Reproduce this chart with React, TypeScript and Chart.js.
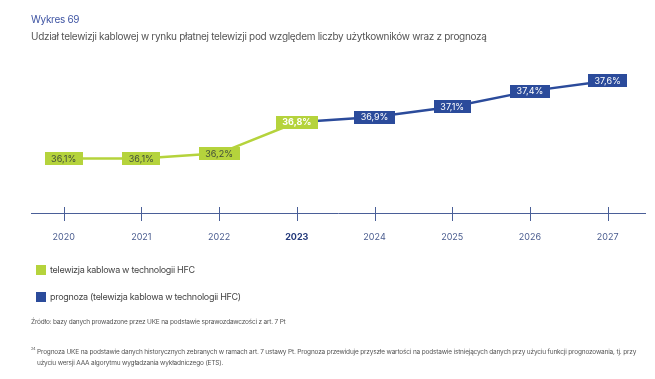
import React, { useEffect, useRef } from "react";
import { Chart, registerables } from "chart.js";

Chart.register(...registerables);

const YEARS = [2020, 2021, 2022, 2023, 2024, 2025, 2026, 2027];
const HFC = [36.1, 36.1, 36.2, 36.8, null, null, null, null];
const FORECAST = [null, null, null, 36.8, 36.9, 37.1, 37.4, 37.6];
const HIGHLIGHT_YEAR = 2023;

const GREEN = "#b5d33c";
const BLUE = "#2b4b9b";
const AXIS = "#4a5f98";
const FONT = "Inter, 'Liberation Sans', sans-serif";

const fmt = (v: number) => v.toFixed(1).replace(".", ",") + "%";

const labelPlugin = {
  id: "boxLabels",
  afterDraw(chart: any) {
    const ctx = chart.ctx;
    const xs = chart.scales.x;
    const area = chart.chartArea;
    ctx.save();
    ctx.strokeStyle = AXIS;
    ctx.lineWidth = 1;
    YEARS.forEach((y) => {
      const px = Math.round(xs.getPixelForValue(y)) + 0.5;
      ctx.beginPath();
      ctx.moveTo(px, area.bottom - 6);
      ctx.lineTo(px, area.bottom + 8);
      ctx.stroke();
    });
    ctx.restore();

    const drawBox = (x: number, y: number, text: string, bg: string, fg: string, bold: boolean) => {
      ctx.save();
      ctx.font = `${bold ? "700" : "400"} 9px ${FONT}`;
      const w = ctx.measureText(text).width + 13;
      const h = 13;
      ctx.fillStyle = bg;
      ctx.fillRect(Math.round(x - w / 2), Math.round(y - h / 2), Math.round(w), h);
      ctx.fillStyle = fg;
      ctx.textAlign = "center";
      ctx.textBaseline = "middle";
      ctx.fillText(text, x, y + 0.5);
      ctx.restore();
    };

    const m0 = chart.getDatasetMeta(0);
    const m1 = chart.getDatasetMeta(1);
    HFC.forEach((v, i) => {
      if (v == null) return;
      const p = m0.data[i];
      const hl = YEARS[i] === HIGHLIGHT_YEAR;
      drawBox(p.x, p.y, fmt(v), GREEN, hl ? "#ffffff" : "#3f4a3a", hl);
    });
    FORECAST.forEach((v, i) => {
      if (v == null || HFC[i] != null) return;
      const p = m1.data[i];
      drawBox(p.x, p.y, fmt(v), BLUE, "#ffffff", false);
    });
  },
};

export default function App() {
  const ref = useRef<HTMLCanvasElement>(null);

  useEffect(() => {
    document.body.style.margin = "0";
    const chart = new Chart(ref.current!, {
      type: "line",
      data: {
        datasets: [
          {
            data: YEARS.map((x, i) => ({ x, y: HFC[i] })),
            borderColor: GREEN,
            borderWidth: 2.5,
            pointRadius: 0,
            spanGaps: false,
          },
          {
            data: YEARS.map((x, i) => ({ x, y: FORECAST[i] })),
            borderColor: BLUE,
            borderWidth: 2.5,
            pointRadius: 0,
            spanGaps: false,
          },
        ] as any,
      },
      options: {
        animation: false,
        responsive: false,
        events: [],
        layout: { padding: { left: 31, right: 10, top: 60, bottom: 136 } },
        plugins: { legend: { display: false }, tooltip: { enabled: false } },
        scales: {
          x: {
            type: "linear",
            min: 2019.58,
            max: 2027.48,
            afterFit: (s: any) => {
              s.height = 30;
            },
            afterBuildTicks: (s: any) => {
              s.ticks = YEARS.map((v) => ({ value: v }));
            },
            grid: { display: false, drawTicks: false },
            border: { display: true, color: AXIS, width: 1 },
            ticks: {
              padding: 19,
              maxRotation: 0,
              autoSkip: false,
              callback: (v: any) => String(v),
              color: (c: any) => (c.tick && c.tick.value === HIGHLIGHT_YEAR ? "#22387a" : "#4a5c8f"),
              font: (c: any) => ({
                family: FONT,
                size: 9,
                weight: c.tick && c.tick.value === HIGHLIGHT_YEAR ? "bold" : "normal",
              }),
            },
          },
          y: { display: false, min: 35.05, max: 38.0 },
        },
      },
      plugins: [labelPlugin],
    });
    return () => chart.destroy();
  }, []);

  const txt: React.CSSProperties = { position: "absolute", whiteSpace: "nowrap", fontFamily: FONT, letterSpacing: "-0.3px" };

  return (
    <div style={{ position: "relative", width: 655, height: 379, background: "#fff", overflow: "hidden" }}>
      <canvas ref={ref} width={655} height={379} style={{ position: "absolute", left: 0, top: 0, width: 655, height: 379 }} />
      <div style={{ ...txt, left: 31, top: 13, fontSize: 10, color: "#3e54a3" }}>Wykres 69</div>
      <div style={{ ...txt, left: 31, top: 30, fontSize: 10, color: "#555" }}>
        Udział telewizji kablowej w rynku płatnej telewizji pod względem liczby użytkowników wraz z prognozą
      </div>
      <div style={{ position: "absolute", left: 36, top: 265, width: 10, height: 10, background: GREEN }} />
      <div style={{ ...txt, left: 50, top: 264, fontSize: 9, color: "#444" }}>telewizja kablowa w technologii HFC</div>
      <div style={{ position: "absolute", left: 36, top: 292, width: 10, height: 10, background: BLUE }} />
      <div style={{ ...txt, left: 50, top: 291, fontSize: 9, color: "#444" }}>prognoza (telewizja kablowa w technologii HFC)</div>
      <div style={{ ...txt, left: 31, top: 318, fontSize: 6.5, color: "#555", letterSpacing: "-0.2px" }}>
        Źródło: bazy danych prowadzone przez UKE na podstawie sprawozdawczości z art. 7 Pt
      </div>
      <div style={{ ...txt, left: 31, top: 346, fontSize: 4, color: "#555" }}>24</div>
      <div style={{ ...txt, left: 37, top: 348, fontSize: 6.5, color: "#555", letterSpacing: "-0.18px" }}>
        Prognoza UKE na podstawie danych historycznych zebranych w ramach art. 7 ustawy Pt. Prognoza przewiduje przyszłe wartości na podstawie istniejących danych przy użyciu funkcji prognozowania, tj. przy
      </div>
      <div style={{ ...txt, left: 37, top: 359, fontSize: 6.5, color: "#555", letterSpacing: "-0.18px" }}>
        użyciu wersji AAA algorytmu wygładzania wykładniczego (ETS).
      </div>
    </div>
  );
}
